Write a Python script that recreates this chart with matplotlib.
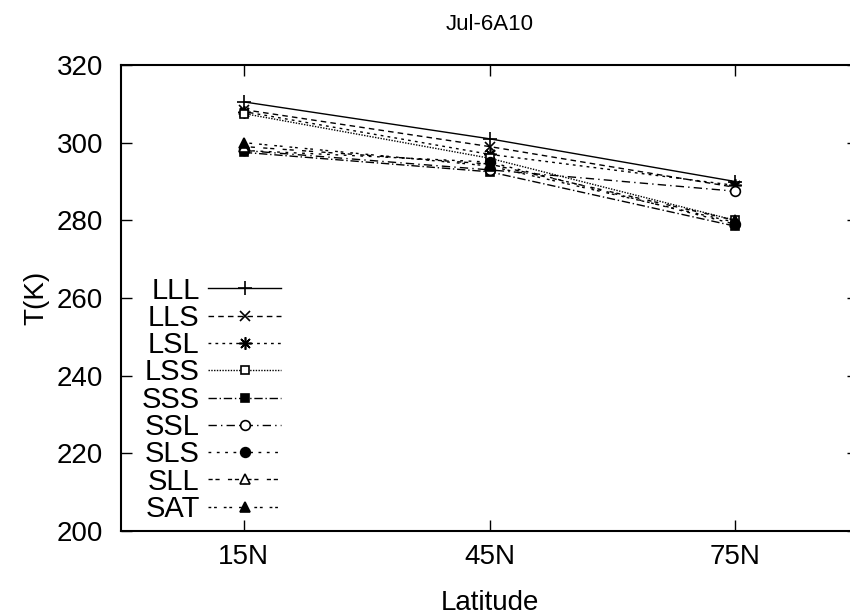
import matplotlib
matplotlib.use('Agg')
import matplotlib.pyplot as plt
import numpy as np

plt.rcParams['font.family'] = ['Liberation Sans', 'DejaVu Sans']

latitudes = ['15N', '45N', '75N']
series_names = ['LLL', 'LLS', 'LSL', 'LSS', 'SSS', 'SSL', 'SLS', 'SLL', 'SAT']
LLL = [310.5, 301.0, 290.0]
LLS = [308.5, 299.0, 288.5]
LSL = [308.0, 297.0, 289.0]
LSS = [307.5, 296.0, 280.0]
SSS = [297.5, 292.5, 278.5]
SSL = [298.0, 293.0, 287.5]
SLS = [298.0, 295.0, 279.0]
SLL = [299.0, 294.5, 280.0]
SAT = [300.0, 294.0, 279.5]
values = [LLL, LLS, LSL, LSS, SSS, SSL, SLS, SLL, SAT]

styles = [
    dict(ls='-', marker='+', ms=10, mfc='black'),
    dict(ls=(0, (4, 3)), marker='x', ms=7, mfc='black'),
    dict(ls=(0, (2, 3)), marker=(8, 2, 0), ms=9, mfc='black'),
    dict(ls=(0, (1, 1)), marker='s', ms=6, mfc='white'),
    dict(ls=(0, (6, 2, 1, 2)), marker='s', ms=6, mfc='black'),
    dict(ls=(0, (6, 3, 1, 3)), marker='o', ms=7, mfc='white'),
    dict(ls=(0, (2, 4)), marker='o', ms=7, mfc='black'),
    dict(ls=(0, (3, 2, 3, 6)), marker='^', ms=7, mfc='white'),
    dict(ls=(0, (2, 2, 2, 5)), marker='^', ms=7, mfc='black'),
]

fig = plt.figure(figsize=(8.5, 6.15), dpi=100)
ax = fig.add_axes([121/850, 1 - 531/615, (858-121)/850, (531-65)/615])

x = np.arange(1, len(latitudes) + 1)
for name, vals, st in zip(series_names, values, styles):
    ax.plot(x, vals, color='black', lw=1.0, ls=st['ls'], marker=st['marker'],
            ms=st['ms'], mfc=st['mfc'], mec='black', mew=1.2, label=name)

ax.set_xlim(0.5, 3.5)
ax.set_ylim(200, 320)
ax.set_xticks(x)
ax.set_xticklabels(latitudes)
ax.set_yticks(np.arange(200, 321, 20))
ax.tick_params(direction='in', length=8, width=1, labelsize=20,
               top=True, right=True)
ax.tick_params(axis='y', pad=13)
ax.tick_params(axis='x', pad=9)
for s in ax.spines.values():
    s.set_linewidth(1.5)

ax.set_title('Jul-6A10', fontsize=16, pad=25)
ax.set_xlabel('Latitude', fontsize=20, labelpad=15)
ax.set_ylabel('T(K)', fontsize=20, labelpad=5)

ax.legend(loc='lower left', bbox_to_anchor=(0.004, -0.02), markerfirst=False,
          frameon=False, fontsize=21, handlelength=2.5, labelspacing=-0.025,
          handletextpad=0.3, borderaxespad=0.3, borderpad=0.3)

fig.savefig('out.png', dpi=100)
